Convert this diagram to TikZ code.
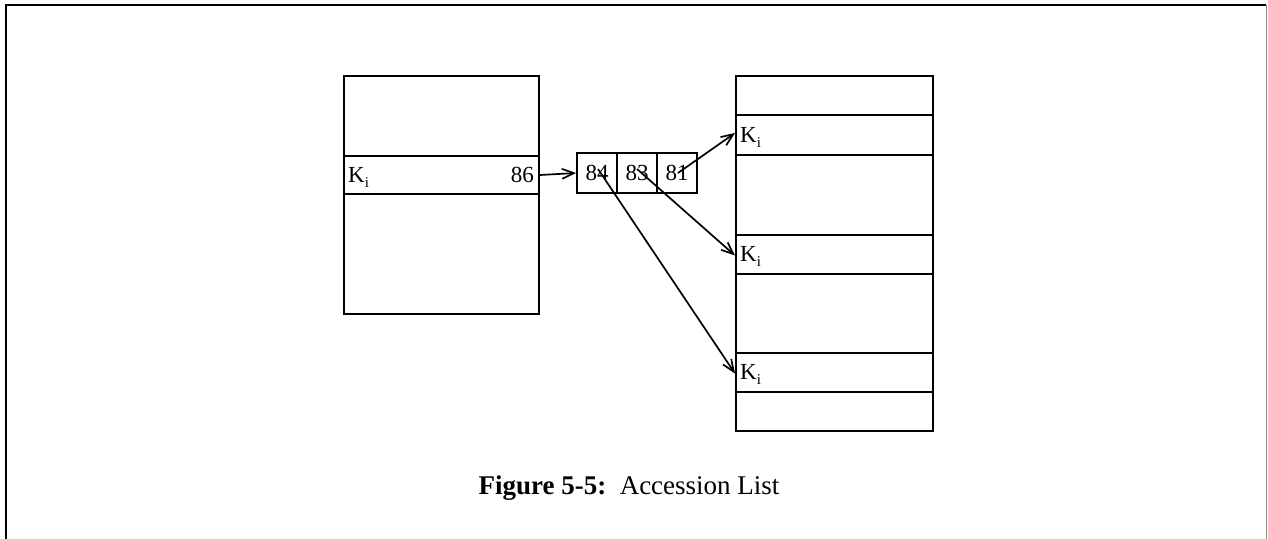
\documentclass[tikz,border=0pt]{standalone}
\usepackage{fontspec}
\setmainfont{Liberation Serif}
\usetikzlibrary{arrows.meta}
\newcommand{\Ksub}{K\raisebox{-5pt}{\fontsize{15}{15}\selectfont i}}
\begin{document}
\begin{tikzpicture}[x=1pt,y=-1pt,
  frame/.style={line width=1.6pt},
  rowbox/.style={draw,line width=2pt,rectangle,inner sep=0pt,anchor=north west},
  cell/.style={draw,line width=1.7pt,rectangle,inner sep=0pt,minimum width=40pt,minimum height=40pt},
  lbl/.style={font=\fontsize{23}{26}\selectfont,inner sep=0pt},
  conn/.style={line width=1.7pt,-{Straight Barb[length=12pt,width=10pt,line width=1.7pt]}}]
\useasboundingbox (0,0) rectangle (1268,538);
% page frame
\draw[frame] (6,540) -- (6,5) -- (1266,5);
\draw[line width=0.8pt,black!45] (1266,5) -- (1266,540);
% left box
\node[rowbox,minimum width=195pt,minimum height=238pt] (L) at (343,75) {};
\node[rowbox,minimum width=195pt,minimum height=38pt] (lk) at (343,155) {};
\node[lbl,anchor=west] (lkl) at ([xshift=5pt,yshift=-2pt]lk.west) {\Ksub};
\node[lbl,anchor=east] (l86) at ([xshift=-6pt]lk.east) {86};
% accession list
\node[cell] (c84) at (597,173) {};
\node[cell] (c83) at (637,173) {};
\node[cell] (c81) at (677,173) {};
\node[lbl] (t84) at (c84) {84};
\node[lbl] (t83) at (c83) {83};
\node[lbl] (t81) at (c81) {81};
% right box
\node[rowbox,minimum width=197pt,minimum height=355pt] (R) at (735,75) {};
\node[rowbox,minimum width=197pt,minimum height=40pt] (r1) at (735,114) {};
\node[rowbox,minimum width=197pt,minimum height=39pt] (r2) at (735,234) {};
\node[rowbox,minimum width=197pt,minimum height=39pt] (r3) at (735,352) {};
\node[lbl,anchor=west] (r1l) at ([xshift=5pt,yshift=-2pt]r1.west) {\Ksub};
\node[lbl,anchor=west] (r2l) at ([xshift=5pt,yshift=-2pt]r2.west) {\Ksub};
\node[lbl,anchor=west] (r3l) at ([xshift=5pt,yshift=-2pt]r3.west) {\Ksub};
% connectors
\coordinate (s81) at ([xshift=1pt]c81.center);
\coordinate (s83) at ([yshift=4pt]c83.center);
\coordinate (s84) at ([xshift=1pt,yshift=4pt]c84.center);
\draw[conn] (lk.east) -- (c84.west);
\draw[conn] (s81) -- ([yshift=2pt]r1.west);
\draw[conn] (s83) -- ([yshift=-1pt]r2.west);
\draw[conn] (s84) -- ([yshift=-1pt]r3.west);
% caption
\node[font=\fontsize{27}{30}\selectfont,anchor=base] (cap) at (629,494) {\textbf{Figure 5-5:}\ \ Accession List};
\end{tikzpicture}
\end{document}
